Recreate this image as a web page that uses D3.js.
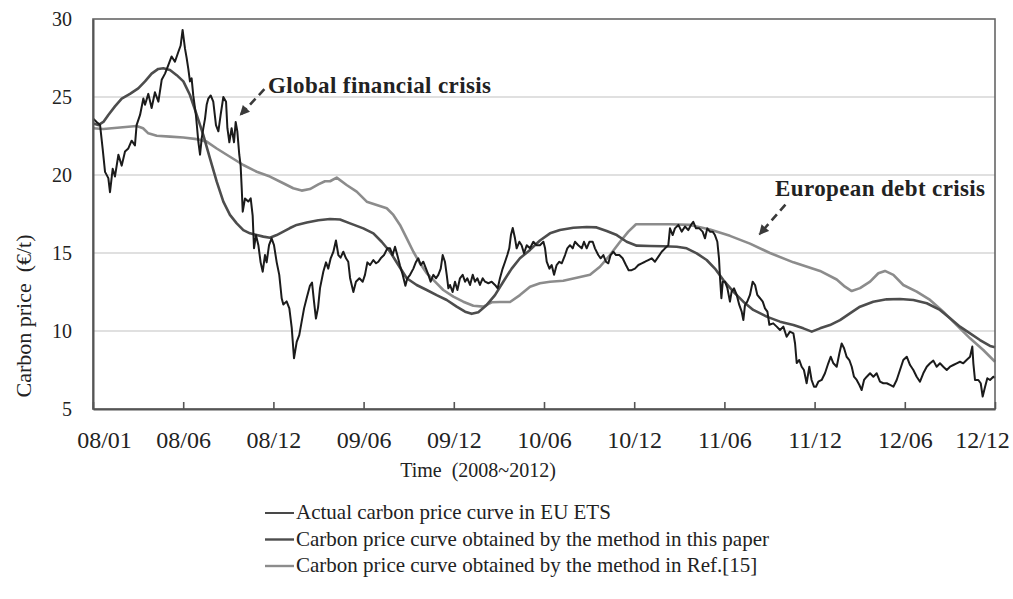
<!DOCTYPE html>
<html><head><meta charset="utf-8">
<script src="https://cdn.jsdelivr.net/npm/d3@7"></script>
<style>
body{margin:0;background:#fff}
svg{display:block}
text{font-family:"Liberation Serif","Times New Roman",serif;fill:#222}
</style>
</head><body><svg id="c" width="1013" height="599"></svg>
<script>
// ---------- data ----------
const xTickLabels = ["08/01","08/06","08/12","09/06","09/12","10/06","10/12","11/06","11/12","12/06","12/12"];
const xTickMonths = [0,6,12,18,24,30,36,42,48,54,60];
const yTicks = [5,10,15,20,25,30];
const gridValues = [10,15,20,25];
const seriesNames = ["Actual carbon price curve in EU ETS",
  "Carbon price curve obtained by the method in this paper",
  "Carbon price curve obtained by the method in Ref.[15]"];
const annotationTexts = ["Global financial crisis","European debt crisis"];

// [month since 2008/01, price €/t]
const actualPrice = [
[0.02,23.6],[0.24,23.4],[0.47,23.2],[0.64,21.7],[0.80,20.2],[1.02,19.8],[1.13,18.9],[1.31,20.4],[1.46,19.9],[1.69,21.3],[1.91,20.6],[2.13,21.5],[2.35,21.7],[2.57,22.2],[2.79,21.9],[2.90,23.2],[3.13,23.85],[3.35,24.9],[3.46,24.5],[3.68,25.2],[3.90,24.3],[4.12,25.3],[4.35,24.7],[4.57,26.1],[4.79,26.5],[5.01,27.05],[5.23,27.6],[5.45,27.26],[5.68,27.9],[5.83,28.3],[5.96,29.3],[6.12,28.1],[6.23,27.5],[6.34,26.8],[6.45,26.0],[6.56,26.2],[6.67,25.1],[6.85,23.8],[7.01,22.1],[7.12,21.3],[7.23,22.35],[7.34,23.0],[7.45,23.6],[7.56,24.5],[7.67,24.9],[7.83,25.1],[8.00,24.7],[8.18,23.2],[8.34,22.8],[8.49,23.85],[8.67,25.0],[8.85,24.7],[8.94,23.0],[9.07,22.1],[9.22,23.0],[9.38,22.1],[9.49,23.4],[9.60,22.8],[9.73,21.3],[9.82,20.6],[9.89,19.2],[9.96,17.65],[10.11,18.5],[10.33,18.3],[10.49,18.5],[10.62,17.4],[10.71,15.3],[10.84,16.15],[11.00,15.5],[11.15,14.4],[11.29,13.8],[11.44,14.87],[11.55,14.4],[11.71,15.5],[11.88,15.94],[12.04,15.5],[12.22,14.4],[12.39,13.6],[12.55,12.1],[12.66,11.7],[12.88,11.9],[13.06,11.45],[13.22,10.2],[13.37,8.25],[13.55,9.3],[13.72,9.74],[13.88,10.6],[14.04,11.45],[14.21,12.1],[14.43,12.9],[14.57,13.1],[14.70,11.9],[14.83,10.8],[14.97,11.5],[15.10,12.75],
[15.32,13.8],[15.50,14.4],[15.65,14.0],[15.81,14.66],[15.99,15.08],[16.16,15.8],[16.32,14.87],[16.47,14.7],[16.65,15.08],[16.83,14.66],[16.98,14.44],[17.10,13.4],[17.32,12.5],[17.49,13.16],[17.72,13.38],[17.94,13.16],[18.09,13.6],[18.25,14.4],[18.43,14.23],[18.65,14.55],[18.83,14.34],[18.98,14.44],[19.14,14.66],[19.36,14.87],[19.58,15.3],[19.76,15.3],[19.93,14.87],[20.09,15.4],[20.24,14.87],[20.42,14.2],[20.60,13.6],[20.78,12.9],[20.91,13.38],[21.09,13.6],[21.31,14.0],[21.49,14.44],[21.64,14.66],[21.80,14.23],[21.97,14.44],[22.15,14.0],[22.31,13.6],[22.46,13.16],[22.64,13.6],[22.82,13.38],[22.97,13.6],[23.13,14.0],[23.26,14.87],[23.41,14.44],[23.53,13.6],[23.64,12.74],[23.75,12.95],[23.92,12.5],[24.08,13.16],[24.24,12.63],[24.41,13.38],[24.59,13.6],[24.75,13.16],[24.90,13.38],[25.08,12.95],[25.26,13.6],[25.41,13.16],[25.57,13.38],[25.74,12.95],[25.92,13.38],[26.08,13.16],[26.30,13.06],[26.52,13.16],[26.74,12.95],[26.92,12.74],[27.07,13.38],[27.25,14.0],[27.41,14.44],[27.56,14.87],[27.69,15.3],[27.80,16.15],[27.92,16.6],[28.07,15.94],[28.18,15.3],[28.36,15.72],[28.51,15.5],[28.67,14.98],[28.85,15.5],[29.07,15.3],[29.29,15.72],[29.51,15.5],[29.73,15.5],
[29.96,15.72],[30.07,15.3],[30.18,14.44],[30.36,14.0],[30.51,14.23],[30.67,13.6],[30.84,14.23],[31.02,14.44],[31.18,14.34],[31.40,14.87],[31.55,15.3],[31.73,15.5],[31.91,15.3],[32.06,15.72],[32.28,15.5],[32.51,15.3],[32.66,15.72],[32.84,15.3],[33.02,15.72],[33.24,15.72],[33.39,15.3],[33.61,14.87],[33.77,14.66],[33.95,14.87],[34.12,14.44],[34.28,14.34],[34.43,14.87],[34.61,15.08],[34.79,14.87],[35.01,14.87],[35.23,14.66],[35.45,14.23],[35.63,13.9],[35.83,13.9],[36.05,14.0],[36.28,14.23],[36.50,14.34],[36.72,14.44],[36.94,14.55],[37.16,14.66],[37.38,14.44],[37.61,14.77],[37.83,15.08],[38.05,15.3],[38.27,15.5],[38.38,16.58],[38.56,16.15],[38.71,16.58],[38.94,16.8],[39.16,16.37],[39.38,16.7],[39.60,16.47],[39.78,16.8],[39.93,17.0],[40.11,16.58],[40.33,16.58],[40.55,16.37],[40.71,15.94],[40.86,16.58],[41.04,16.37],[41.22,16.37],[41.37,16.15],[41.53,15.72],[41.64,14.66],[41.71,13.38],[41.80,12.1],[41.89,13.16],[42.04,13.16],[42.20,12.74],[42.37,11.88],[42.48,12.52],[42.64,12.74],[42.82,12.31],[42.99,11.67],[43.15,11.24],[43.26,10.7],[43.37,11.67],[43.52,11.88],[43.70,12.31],[43.88,13.16],[44.04,12.95],[44.19,12.31],[44.37,12.1],[44.55,11.88],[44.70,11.45],[44.86,11.24],[44.99,10.4],
[45.25,10.49],[45.48,10.28],[45.70,10.06],[45.92,10.28],[46.14,9.63],[46.36,9.96],[46.59,9.85],[46.70,9.2],[46.81,7.95],[46.98,8.14],[47.14,7.71],[47.29,7.5],[47.47,6.65],[47.65,7.71],[47.80,6.86],[47.96,6.43],[48.09,6.43],[48.25,6.75],[48.47,6.86],[48.69,7.29],[48.91,7.93],[49.07,8.35],[49.25,7.93],[49.47,7.71],[49.65,8.57],[49.80,9.2],[49.96,8.89],[50.13,8.35],[50.31,8.14],[50.47,7.71],[50.62,7.07],[50.80,6.86],[50.98,6.54],[51.13,6.22],[51.29,6.86],[51.47,7.07],[51.69,7.29],[51.91,7.07],[52.13,7.29],[52.35,6.75],[52.57,6.65],[52.80,6.65],[53.02,6.54],[53.24,6.43],[53.46,6.86],[53.68,7.5],[53.90,8.14],[54.13,8.35],[54.35,7.82],[54.57,7.5],[54.79,7.07],[55.01,6.75],[55.23,7.29],[55.46,7.71],[55.68,7.93],[55.90,8.1],[56.12,7.71],[56.34,7.93],[56.56,7.71],[56.79,7.5],[57.01,7.71],[57.23,7.82],[57.45,7.93],[57.67,8.03],[57.89,7.93],[58.11,8.14],[58.34,8.35],[58.49,9.0],[58.56,7.93],[58.67,6.86],[58.89,6.86],[59.05,6.65],[59.18,5.8],[59.34,6.43],[59.49,6.97],[59.67,6.86],[59.89,7.07],[60.0,7.0]
];

const paperPrice = [
[0.02,23.3],[0.35,23.2],[0.69,23.4],[1.02,23.85],[1.46,24.4],[1.91,24.9],[2.46,25.2],[3.01,25.55],[3.46,26.0],[3.90,26.5],[4.34,26.8],[4.68,26.84],[5.12,26.73],[5.57,26.4],[6.01,26.0],[6.45,25.13],[6.90,23.85],[7.34,22.56],[7.78,21.07],[8.23,19.57],[8.67,18.29],[9.11,17.44],[9.56,16.9],[10.0,16.47],[10.44,16.26],[10.89,16.15],[11.33,16.05],[11.77,15.98],[12.22,16.15],[12.66,16.37],[13.10,16.6],[13.55,16.8],[14.22,16.95],[14.99,17.1],[15.76,17.18],[16.43,17.15],[17.10,16.9],[17.98,16.58],[18.65,16.26],[19.20,15.72],[19.76,15.08],[20.31,14.23],[20.87,13.38],[21.53,12.95],[22.20,12.63],[22.86,12.3],[23.53,11.99],[24.19,11.56],[24.75,11.24],[25.19,11.1],[25.63,11.2],[26.19,11.67],[26.74,12.3],[27.29,13.16],[27.85,14.0],[28.40,14.66],[29.07,15.2],[29.73,15.8],[30.40,16.26],[31.06,16.47],[31.95,16.62],[32.84,16.67],[33.50,16.64],[34.17,16.41],[34.84,16.15],[35.50,15.72],[36.17,15.47],[37.05,15.45],[37.94,15.43],[38.83,15.4],[39.49,15.3],[40.16,14.98],[40.82,14.55],[41.37,14.0],[41.93,13.27],[42.59,12.52],[43.26,11.88],[43.92,11.35],[44.59,11.03],[44.81,10.92],[45.70,10.6],[46.59,10.38],[47.25,10.17],[47.81,9.96],[48.36,10.17],[49.02,10.38],[49.69,10.7],[50.35,11.13],[51.02,11.56],[51.90,11.88],[52.79,12.03],[53.68,12.05],[54.57,11.99],[55.46,11.78],[56.34,11.35],[57.01,10.81],[57.67,10.28],[58.34,9.85],[59.00,9.42],[59.67,9.04],[60.0,8.96]
];

const refPrice = [
[0.0,23.0],[0.69,22.95],[1.80,23.05],[2.91,23.14],[3.33,23.0],[3.68,22.67],[4.24,22.52],[5.12,22.46],[6.01,22.4],[6.90,22.3],[7.56,22.14],[8.23,21.7],[9.11,21.17],[10.0,20.64],[10.89,20.21],[11.77,19.9],[12.66,19.47],[13.32,19.15],[13.88,19.0],[14.43,19.1],[14.99,19.4],[15.43,19.6],[15.77,19.6],[16.21,19.83],[16.87,19.36],[17.54,18.93],[18.21,18.29],[18.87,18.08],[19.54,17.87],[19.98,17.44],[20.42,16.8],[20.87,15.94],[21.31,15.08],[21.75,14.34],[22.20,13.7],[22.75,13.16],[23.30,12.63],[23.97,12.2],[24.63,11.88],[25.30,11.62],[25.96,11.56],[26.52,11.84],[27.07,11.86],[27.74,11.86],[28.40,12.3],[29.07,12.84],[29.73,13.06],[30.40,13.16],[31.28,13.22],[32.18,13.42],[33.06,13.6],[33.72,14.12],[34.39,14.87],[35.06,15.72],[35.61,16.37],[36.12,16.84],[38.38,16.84],[39.71,16.8],[41.04,16.5],[42.37,16.1],[43.70,15.6],[45.03,15.0],[46.59,14.4],[48.36,13.85],[49.47,13.3],[50.02,12.84],[50.47,12.56],[51.02,12.75],[51.69,13.16],[52.24,13.7],[52.68,13.85],[53.24,13.6],[53.90,12.95],[54.79,12.52],[55.68,11.99],[56.56,11.24],[57.45,10.38],[58.34,9.53],[59.22,8.78],[60.0,8.03]
];

// ---------- layout ----------
const svg = d3.select("#c");
const L = 93, R = 995, T = 19, B = 409;
const x = d3.scaleLinear().domain([0,60]).range([L,R]);
const y = d3.scaleLinear().domain([5,30]).range([B,T]);
const colors = ["#1b1b1b","#4d4d4d","#8c8c8c"];
const widths = [2,2.6,2.6];
const serif = '"Liberation Serif","Times New Roman",serif';

// grid
svg.append("g").selectAll("line").data(gridValues).join("line")
  .attr("x1",L).attr("x2",R).attr("y1",d=>y(d)).attr("y2",d=>y(d))
  .attr("stroke","#d6d6d6").attr("stroke-width",1.5);

// lines
const line = d3.line().x(d=>x(d[0])).y(d=>y(d[1]));
const series = [refPrice, paperPrice, actualPrice];
const sIdx = [2,1,0];
svg.append("g").selectAll("path").data(series).join("path")
  .attr("d",line).attr("fill","none")
  .attr("stroke",(d,i)=>colors[sIdx[i]]).attr("stroke-width",(d,i)=>widths[sIdx[i]])
  .attr("stroke-linejoin","round");

// frame
svg.append("rect").attr("x",L).attr("y",T).attr("width",R-L).attr("height",B-T)
  .attr("fill","none").attr("stroke","#666").attr("stroke-width",1.6);

// x axis
const xAxis = d3.axisBottom(x).tickValues(xTickMonths)
  .tickFormat((d,i)=>xTickLabels[i]).tickSizeInner(-7).tickSizeOuter(0).tickPadding(22);
const gx = svg.append("g").attr("transform",`translate(0,${B})`).call(xAxis);
gx.select(".domain").attr("stroke","#555").attr("stroke-width",2);
gx.selectAll(".tick line").attr("stroke","#555").attr("stroke-width",1.6);
const nT = xTickLabels.length;
gx.selectAll("text").attr("font-size",24).attr("font-family",serif).attr("fill","#222")
  .attr("dx",(d,i)=> i===0 ? 11 : (i===nT-1 ? -13 : 0));

// y axis
const yAxis = d3.axisLeft(y).tickValues(yTicks).tickSize(0).tickPadding(21);
const gy = svg.append("g").attr("transform",`translate(${L},0)`).call(yAxis);
gy.select(".domain").attr("stroke","#555").attr("stroke-width",2);
gy.selectAll("text").attr("font-size",20).attr("font-family",serif).attr("fill","#222");

// axis titles
svg.append("text").attr("transform","translate(31,316) rotate(-90)")
  .attr("text-anchor","middle").attr("font-size",22).text("Carbon price\u00a0\u00a0(\u20ac/t)");
svg.append("text").attr("x",478).attr("y",477).attr("text-anchor","middle")
  .attr("font-size",20).text("Time\u00a0\u00a0(2008~2012)");

// annotations
const ann = [
  {tx:11.64, ty:25.27, w:223, from:[11.40,25.50], to:[9.80,23.85]},
  {tx:45.37, ty:18.65, w:210, from:[46.06,18.10], to:[44.33,16.19]}
];
svg.append("defs").append("marker").attr("id","ah").attr("viewBox","0 0 10 10")
  .attr("refX",9).attr("refY",5).attr("markerWidth",12).attr("markerHeight",10)
  .attr("orient","auto").attr("markerUnits","userSpaceOnUse")
  .append("path").attr("d","M0,0L10,5L0,10z").attr("fill","#3a3a3a");
ann.forEach((a,i)=>{
  svg.append("text").attr("x",x(a.tx)).attr("y",y(a.ty)).attr("font-size",23)
    .attr("font-weight","bold").attr("fill","#3a3a3a")
    .attr("textLength",a.w).attr("lengthAdjust","spacing").text(annotationTexts[i]);
  svg.append("line").attr("x1",x(a.from[0])).attr("y1",y(a.from[1]))
    .attr("x2",x(a.to[0])).attr("y2",y(a.to[1]))
    .attr("stroke","#3a3a3a").attr("stroke-width",2.6).attr("stroke-dasharray","8,5")
    .attr("marker-end","url(#ah)");
});

// legend
const lg = svg.append("g");
[0,1,2].forEach((k,i)=>{
  const by = 519 + i*26.5;
  lg.append("line").attr("x1",265).attr("x2",294).attr("y1",by-6).attr("y2",by-6)
    .attr("stroke",colors[k]).attr("stroke-width",k===0?1.6:2.4);
  lg.append("text").attr("x",296).attr("y",by).attr("font-size",21).text(seriesNames[k]);
});
</script></body></html>
